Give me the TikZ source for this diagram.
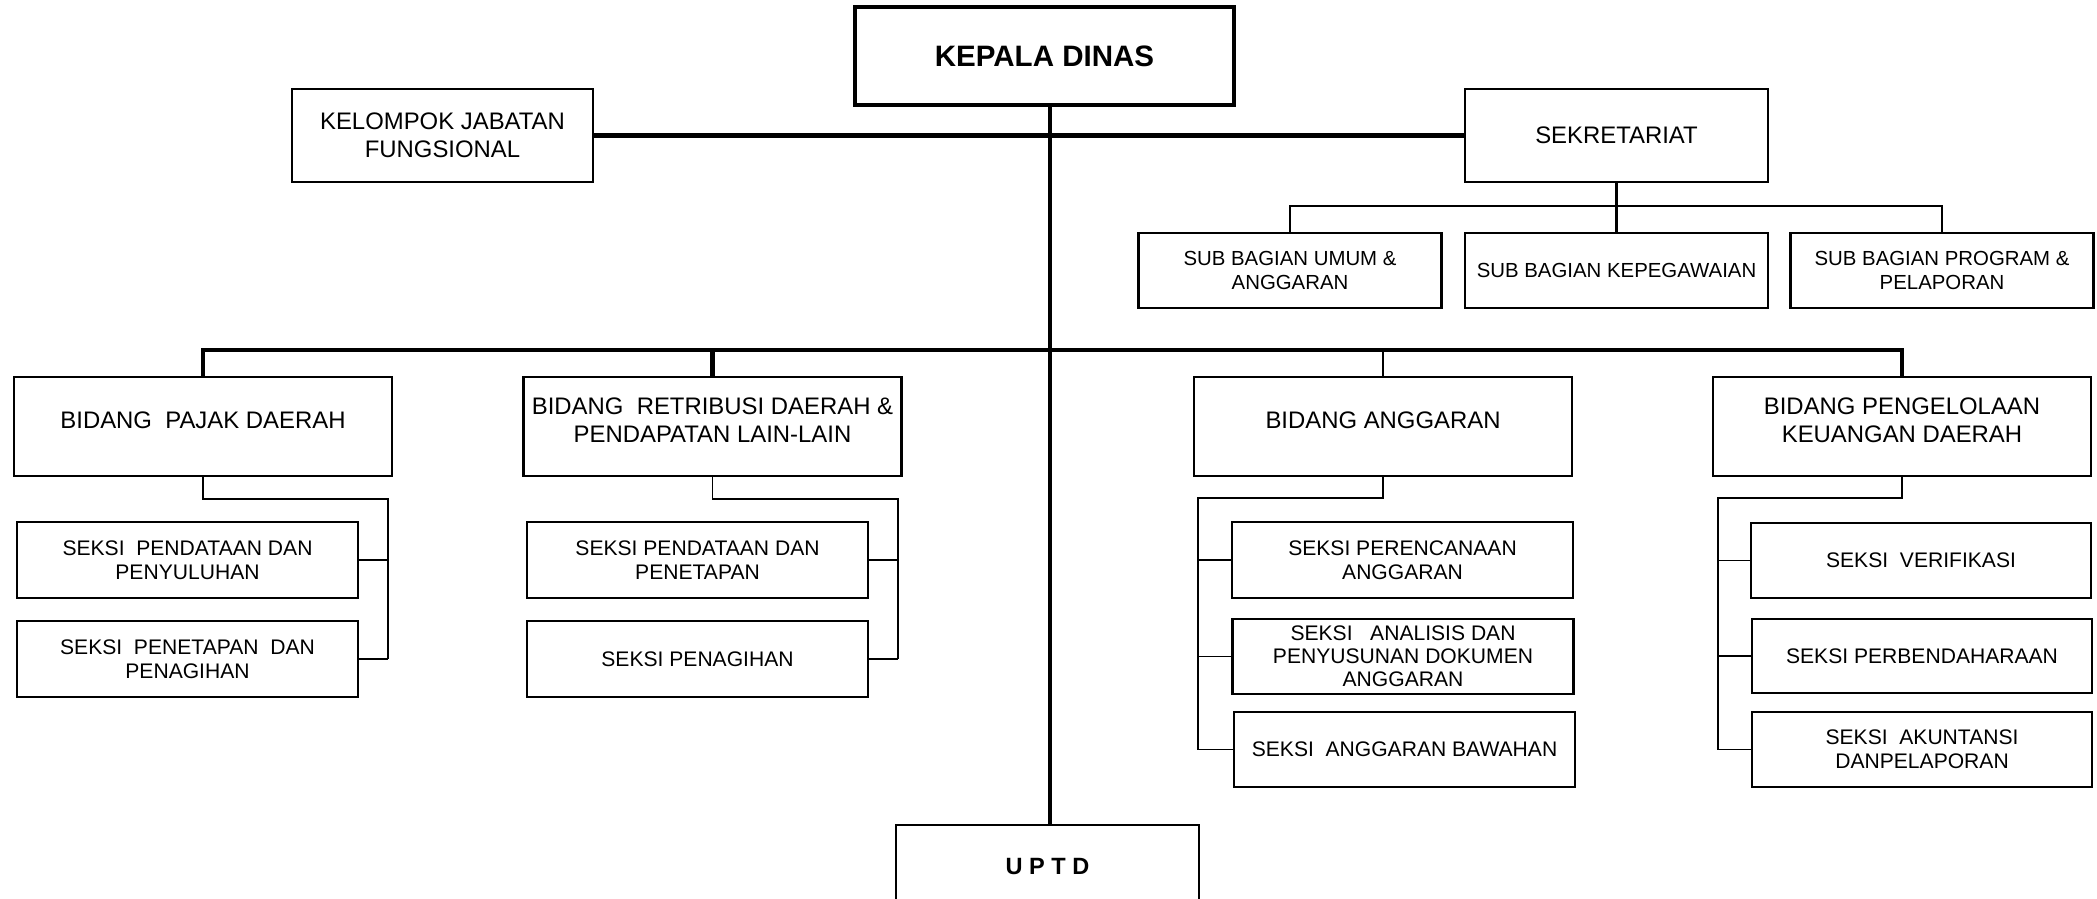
\documentclass[tikz,border=0pt]{standalone}
\usepackage{fontspec}
\setmainfont{Liberation Sans}
\usetikzlibrary{positioning,calc}

\tikzset{
  unit/.style={draw, line width=0.7pt, inner sep=1pt, align=center, font=\fontsize{6.8}{7.9}\selectfont},
  bidang/.style={unit, minimum width=3.78cm, minimum height=0.99cm, text depth=0.12cm},
  seksi/.style={draw, line width=0.7pt, inner sep=1pt, align=center, minimum width=3.41cm, minimum height=0.76cm, font=\fontsize{6}{6.8}\selectfont},
  subbag/.style={draw, line width=0.6pt, inner sep=1pt, align=center, minimum width=3.03cm, minimum height=0.75cm, font=\fontsize{5.8}{6.8}\selectfont},
  busline/.style={line width=1.3pt},
  link/.style={line width=0.6pt},
  bracket/.style={line width=0.5pt}
}

\begin{document}
\begin{tikzpicture}
  \useasboundingbox (0,0) rectangle (20.97,-8.98);

  % Kepala dinas
  \node[draw, line width=1.3pt, minimum width=3.79cm, minimum height=0.98cm, font=\fontsize{8.4}{10}\selectfont\bfseries] (kepala) at (10.445,-0.56) {KEPALA DINAS};

  \node[unit, minimum width=3.01cm, minimum height=0.93cm] (fungsional) at (4.425,-1.355) {KELOMPOK JABATAN\\FUNGSIONAL};
  \node[unit, minimum width=3.03cm, minimum height=0.93cm] (sekretariat) at (16.165,-1.355) {SEKRETARIAT};

  % Sub bagian
  \node[subbag] (umum) at (12.90,-2.705) {SUB BAGIAN UMUM \&\\ANGGARAN};
  \node[subbag] (kepeg) at (16.165,-2.705) {SUB BAGIAN KEPEGAWAIAN};
  \node[subbag] (program) at (19.42,-2.705) {SUB BAGIAN PROGRAM \&\\PELAPORAN};

  % Bidang
  \node[bidang] (pajak) at (2.03,-4.265) {BIDANG~ PAJAK DAERAH};
  \node[bidang] (retribusi) at (7.125,-4.265) {BIDANG~ RETRIBUSI DAERAH \&\\PENDAPATAN LAIN-LAIN};
  \node[bidang] (anggaran) at (13.83,-4.265) {BIDANG ANGGARAN};
  \node[bidang] (pengelolaan) at (19.02,-4.265) {BIDANG PENGELOLAAN\\KEUANGAN DAERAH};

  % Seksi
  \node[seksi] (pajakA) at (1.875,-5.60) {SEKSI~ PENDATAAN DAN\\PENYULUHAN};
  \node[seksi] (pajakB) at (1.875,-6.59) {SEKSI~ PENETAPAN~ DAN\\PENAGIHAN};
  \node[seksi] (retribusiA) at (6.975,-5.60) {SEKSI PENDATAAN DAN\\PENETAPAN};
  \node[seksi] (retribusiB) at (6.975,-6.59) {SEKSI PENAGIHAN};
  \node[seksi] (anggaranA) at (14.025,-5.60) {SEKSI PERENCANAAN\\ANGGARAN};
  \node[seksi, minimum height=0.75cm, font=\fontsize{6}{6.6}\selectfont] (anggaranB) at (14.03,-6.565) {SEKSI~~ ANALISIS DAN\\PENYUSUNAN DOKUMEN\\ANGGARAN};
  \node[seksi, minimum height=0.75cm] (anggaranC) at (14.045,-7.495) {SEKSI~ ANGGARAN BAWAHAN};
  \node[seksi, minimum width=3.40cm, minimum height=0.75cm] (pengelolaanA) at (19.21,-5.605) {SEKSI~ VERIFIKASI};
  \node[seksi, minimum width=3.40cm, minimum height=0.74cm] (pengelolaanB) at (19.22,-6.56) {SEKSI PERBENDAHARAAN};
  \node[seksi, minimum width=3.40cm, minimum height=0.75cm] (pengelolaanC) at (19.22,-7.495) {SEKSI~ AKUNTANSI\\DANPELAPORAN};

  % UPTD
  \node[draw, line width=0.7pt, minimum width=3.03cm, minimum height=0.84cm, font=\fontsize{6.7}{8}\selectfont\bfseries] (uptd) at (10.475,-8.67) {U P T D};

  % garis komando
  \coordinate (bidbus) at (10.50,-3.50);
  \draw[busline] (fungsional.east) -- (sekretariat.west);
  \draw[busline] (kepala.south -| bidbus) -- (bidbus |- uptd.north);

  \coordinate (subbus) at (16.165,-2.06);
  \draw[link] (sekretariat.south) -- (kepeg.north);
  \draw[link] (umum.north) |- (subbus) -| (program.north);

  \draw[busline] (pajak.north) |- (bidbus) -| (pengelolaan.north);
  \draw[busline] (retribusi.north) -- (retribusi.north |- bidbus);
  \draw[link] (anggaran.north) -- (anggaran.north |- bidbus);

  % seksi di bawah bidang
  \coordinate (pajakrail) at (3.88,-4.99);
  \draw[bracket] (pajak.south) |- (pajakrail) -- (pajakrail |- pajakB.east);
  \draw[bracket] (pajakA.east) -- (pajakA.east -| pajakrail);
  \draw[bracket] (pajakB.east) -- (pajakB.east -| pajakrail);

  \coordinate (retribusirail) at (8.98,-4.99);
  \draw[bracket] (retribusi.south) |- (retribusirail) -- (retribusirail |- retribusiB.east);
  \draw[bracket] (retribusiA.east) -- (retribusiA.east -| retribusirail);
  \draw[bracket] (retribusiB.east) -- (retribusiB.east -| retribusirail);

  \coordinate (anggaranrail) at (11.98,-4.98);
  \draw[bracket] (anggaran.south) |- (anggaranrail) -- (anggaranrail |- anggaranC.west);
  \draw[bracket] (anggaranA.west) -- (anggaranA.west -| anggaranrail);
  \draw[bracket] (anggaranB.west) -- (anggaranB.west -| anggaranrail);
  \draw[bracket] (anggaranC.west) -- (anggaranC.west -| anggaranrail);

  \coordinate (pengelolaanrail) at (17.18,-4.98);
  \draw[bracket] (pengelolaan.south) |- (pengelolaanrail) -- (pengelolaanrail |- pengelolaanC.west);
  \draw[bracket] (pengelolaanA.west) -- (pengelolaanA.west -| pengelolaanrail);
  \draw[bracket] (pengelolaanB.west) -- (pengelolaanB.west -| pengelolaanrail);
  \draw[bracket] (pengelolaanC.west) -- (pengelolaanC.west -| pengelolaanrail);
\end{tikzpicture}
\end{document}
